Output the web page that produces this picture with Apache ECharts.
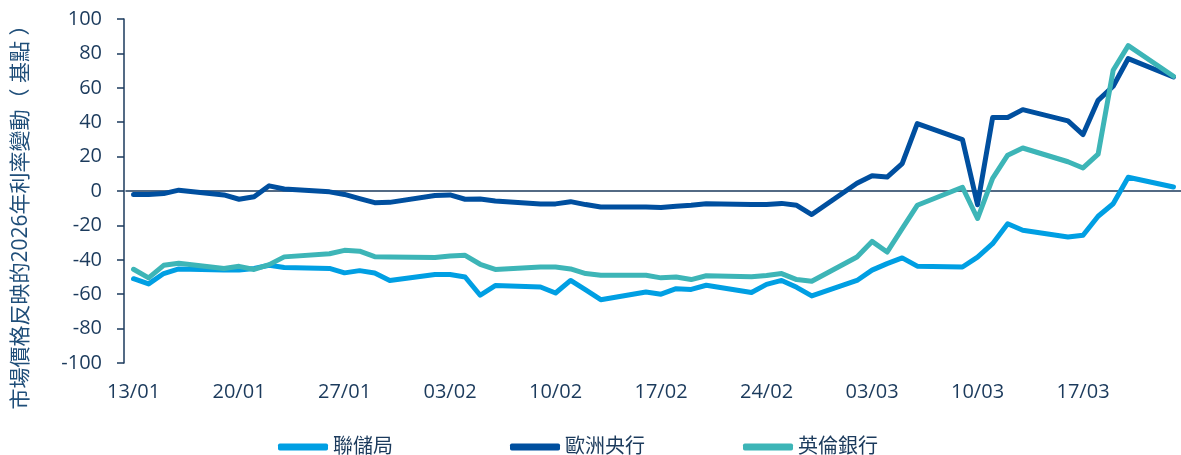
<!DOCTYPE html>
<html>
<head>
  <meta charset="utf-8">
  <script src="https://cdn.jsdelivr.net/npm/echarts@6/dist/echarts.min.js"></script>
</head>
<body style="margin: 0">
  <div id="container" style="width: 1181px; height: 455px"></div>
  <script>
    // trading days (2026)
    var dates = [
      '13/01', '14/01', '15/01', '16/01',
      '19/01', '20/01', '21/01', '22/01', '23/01',
      '26/01', '27/01', '28/01', '29/01', '30/01',
      '02/02', '03/02', '04/02', '05/02', '06/02',
      '09/02', '10/02', '11/02', '12/02', '13/02',
      '16/02', '17/02', '18/02', '19/02', '20/02',
      '23/02', '24/02', '25/02', '26/02', '27/02',
      '02/03', '03/03', '04/03', '05/03', '06/03',
      '09/03', '10/03', '11/03', '12/03', '13/03',
      '16/03', '17/03', '18/03', '19/03', '20/03',
      '23/03'
    ];
    var fed = [
      -51, -54, -48, -45.3,
      -46, -46, -45, -43.2, -44.5,
      -45, -47.6, -46.3, -47.7, -52,
      -48.6, -48.6, -50, -60.6, -55,
      -55.8, -59.3, -52, -57.5, -63.2,
      -58.7, -60, -56.8, -57.2, -54.8,
      -59, -54.3, -52, -56, -61,
      -52, -46, -42.2, -38.9, -43.7,
      -44.2, -38.4, -30.6, -19, -22.8,
      -26.7, -25.7, -14.7, -7.4, 8,
      2.3
    ];
    var ecb = [
      -2, -2, -1.5, 0.5,
      -2.3, -4.8, -3.3, 3, 1.2,
      -0.5, -2, -4.4, -6.8, -6.6,
      -2.6, -2.3, -4.8, -4.7, -5.8,
      -7.5, -7.5, -6.2, -7.9, -9.3,
      -9.3, -9.6, -8.9, -8.3, -7.4,
      -7.8, -7.9, -7.2, -8.3, -13.7,
      4.5, 8.8, 8.1, 15.9, 39.2,
      29.9, -8, 42.7, 42.7, 47.3,
      40.8, 32.8, 52.7, 60.9, 77,
      66.3
    ];
    var boe = [
      -45.5, -50.5, -43.2, -42,
      -45, -43.8, -45.6, -42.8, -38.3,
      -36.5, -34.5, -35, -38.2, -38.4,
      -38.7, -37.8, -37.4, -42.6, -45.6,
      -44.2, -44.2, -45.3, -48, -49,
      -49, -50.5, -50, -51.5, -49.3,
      -49.8, -49.1, -48, -51.5, -52.5,
      -38.4, -29.3, -35.5, -21.9, -8.3,
      2.2, -16, 7.4, 20.8, 25,
      17, 13.4, 21.4, 70.2, 84.5,
      66.7
    ];
    var seriesNames = ['聯儲局', '歐洲央行', '英倫銀行'];
    var colors = ['#009fe3', '#004f9f', '#3db5b7'];
    var legendLeft = [273, 505, 738];

    // every calendar day on the axis, so weekends leave gaps like a date axis
    function pad(n) { return (n < 10 ? '0' : '') + n; }
    var days = [];
    var day = new Date(2026, 0, 13);
    var lastDay = new Date(2026, 2, 23);
    while (day <= lastDay) {
      days.push(pad(day.getDate()) + '/' + pad(day.getMonth() + 1));
      day.setDate(day.getDate() + 1);
    }

    function pairs(values) {
      return dates.map(function (d, i) { return [d, values[i]]; });
    }

    var navy = '#1b3a5c';
    var font = '"Open Sans", "Noto Sans CJK TC", sans-serif';

    var chart = echarts.init(document.getElementById('container'), null, { renderer: 'canvas' });
    chart.setOption({
      animation: false,
      color: colors,
      textStyle: { fontFamily: font },
      grid: { left: 126, right: -2, top: 19, bottom: 92 },
      // one legend per series so the items sit at fixed spots
      legend: seriesNames.map(function (name, k) {
        return {
          left: legendLeft[k],
          top: 432,
          itemWidth: 50,
          itemHeight: 7,
          icon: 'roundRect',
          textStyle: { fontSize: 20, color: navy, fontFamily: font },
          data: [name]
        };
      }),
      graphic: [{
        type: 'text',
        x: 21,
        y: 212,
        rotation: Math.PI / 2,
        style: {
          text: '市場價格反映的2026年利率變動（ 基點 ）',
          fontSize: 21,
          fontFamily: font,
          fill: '#1f4e79',
          align: 'center',
          verticalAlign: 'middle'
        }
      }],
      xAxis: [
        {
          // axis line and ticks sitting on zero
          type: 'category',
          position: 'top',
          data: days,
          boundaryGap: true,
          axisLine: { onZero: true, lineStyle: { color: navy, width: 1.5 } },
          axisTick: { inside: true, interval: 6, length: 6, lineStyle: { color: navy, width: 1.5 } },
          axisLabel: { show: false },
          splitLine: { show: false }
        },
        {
          // date labels at the bottom
          type: 'category',
          position: 'bottom',
          data: days,
          boundaryGap: true,
          axisLine: { show: false, onZero: false },
          axisTick: { show: false },
          axisLabel: { interval: 6, margin: 19, fontSize: 20, color: navy, fontFamily: font },
          splitLine: { show: false }
        }
      ],
      yAxis: {
        type: 'value',
        min: -100,
        max: 100,
        interval: 20,
        offset: 2,
        axisLine: { show: true, lineStyle: { color: navy, width: 1.5 } },
        axisTick: { show: true, length: 7, lineStyle: { color: navy, width: 1.5 } },
        axisLabel: { margin: 22, fontSize: 20, color: navy, fontFamily: font },
        splitLine: { show: false }
      },
      series: seriesNames.map(function (name, k) {
        return {
          name: name,
          type: 'line',
          xAxisIndex: 0,
          data: pairs([fed, ecb, boe][k]),
          symbol: 'none',
          lineStyle: { width: 5, color: colors[k], cap: 'round', join: 'round' }
        };
      })
    });
  </script>
</body>
</html>
